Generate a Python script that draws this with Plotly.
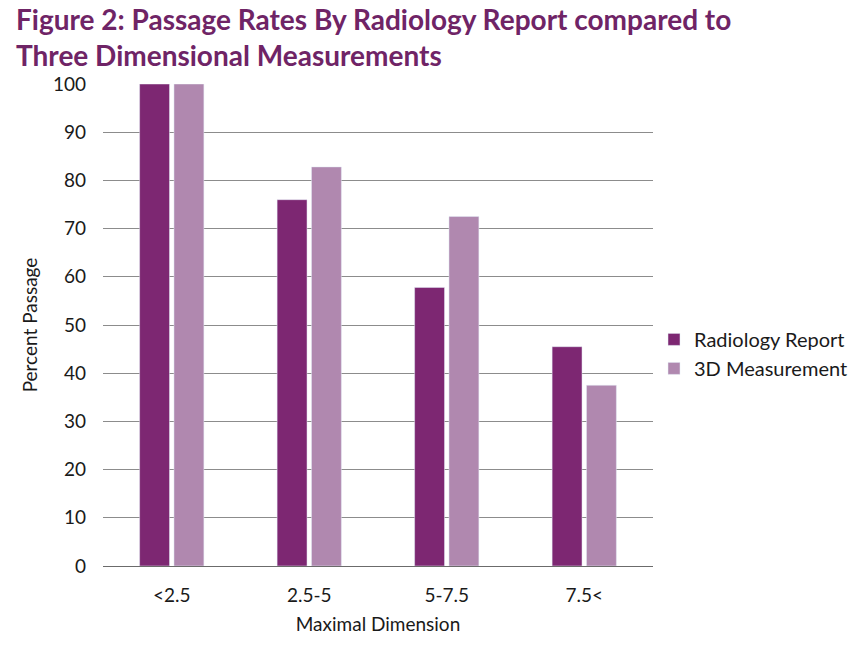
import plotly.graph_objects as go

categories = ["<2.5", "2.5-5", "5-7.5", "7.5<"]
radiology = [100, 76, 57.8, 45.5]
measure3d = [100, 82.8, 72.5, 37.5]
yticks = [0, 10, 20, 30, 40, 50, 60, 70, 80, 90, 100]

font = "Lato, 'Open Sans', sans-serif"

fig = go.Figure()
fig.add_bar(x=categories, y=radiology, name="Radiology Report", marker_color="#7D2772")
fig.add_bar(x=categories, y=measure3d, name="3D Measurement", marker_color="#B088AF")

fig.add_annotation(
    text="<b>Figure 2: Passage Rates By Radiology Report compared to<br>Three Dimensional Measurements</b>",
    xref="paper", yref="paper", x=-89/551, y=1 + 84/482, xanchor="left", yanchor="top",
    align="left", showarrow=False,
    font=dict(size=28, color="#6F2466", family=font),
)

fig.update_layout(
    width=864, height=646,
    paper_bgcolor="white", plot_bgcolor="white",
    margin=dict(l=103, r=210, t=84, b=80),
    barmode="group", bargap=0.5, bargroupgap=0.13,
    font=dict(family=font, color="#1a1a1a"),
    legend=dict(x=1.0, xanchor="left", y=0.44, yanchor="middle",
                font=dict(size=20, color="#1a1a1a"), itemwidth=30),
    xaxis=dict(
        title=dict(text="Maximal Dimension", font=dict(size=19), standoff=12),
        tickfont=dict(size=19), showline=False, ticks="", ticklabelstandoff=16,
    ),
    yaxis=dict(
        title=dict(text="Percent Passage", font=dict(size=19), standoff=10),
        range=[0, 100], tickvals=yticks, tickfont=dict(size=19),
        showgrid=True, gridcolor="#8c8c8c", gridwidth=1,
        zeroline=True, zerolinecolor="#6b6b6b", zerolinewidth=1,
        ticklabelstandoff=16, showline=False,
    ),
)
fig.write_html("out.html")
